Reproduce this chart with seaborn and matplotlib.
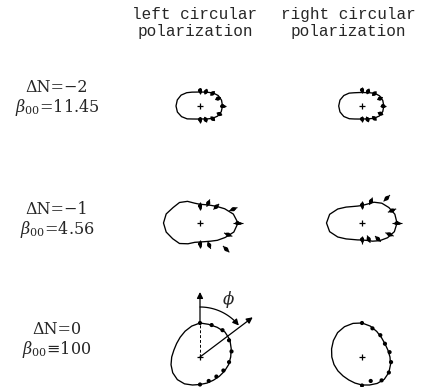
"""
Angular distributions for left / right circular polarization
"""

import matplotlib
matplotlib.use('Agg')

import numpy as np
import pandas as pd
import matplotlib.pyplot as plt
import seaborn as sns

# ---- data (radii in the figure's intensity units) ----
# angle phi measured from the vertical, clockwise (degrees)
CURVE_PHI = [0, 15, 30, 45, 60, 75, 90, 105, 120, 135, 150, 165,
             180, 195, 210, 225, 240, 255, 270, 285, 300, 315, 330, 345]

# fitted curves
FIT_M2_LEFT = [14.0, 14.4, 15.8, 18.5, 21.0, 22.3, 22.5, 22.0, 20.3, 17.5, 14.9, 13.4,
               13.0, 13.5, 15.0, 18.2, 21.3, 23.4, 24.0, 23.5, 21.8, 18.8, 16.0, 14.4]
FIT_M2_RIGHT = [13.5, 13.9, 15.3, 18.0, 20.3, 21.5, 21.8, 21.5, 20.0, 17.3, 14.7, 13.4,
                13.0, 13.5, 15.0, 18.0, 21.0, 22.8, 23.3, 22.8, 21.0, 18.2, 15.3, 13.9]
FIT_M1_LEFT = [18.7, 19.0, 20.5, 23.5, 28.5, 34.5, 38.0, 35.0, 29.0, 24.5, 21.0, 19.3,
               19.0, 20.0, 24.0, 29.0, 31.5, 35.0, 36.5, 35.0, 31.0, 29.0, 25.0, 20.5]
FIT_M1_RIGHT = [17.5, 19.5, 24.0, 28.0, 31.0, 34.0, 35.0, 33.5, 29.5, 25.0, 21.0, 18.0,
                17.0, 17.5, 19.0, 22.5, 28.0, 33.5, 35.5, 33.5, 28.0, 22.5, 19.0, 17.5]
FIT_0_LEFT = [34.0, 33.8, 34.3, 35.3, 34.5, 32.3, 30.7, 29.6, 28.3, 27.3, 26.8, 27.0,
              27.5, 29.0, 31.0, 32.0, 31.5, 30.0, 28.3, 27.0, 27.0, 28.0, 29.8, 32.0]
FIT_0_RIGHT = [34.0, 32.0, 29.5, 27.5, 26.5, 26.8, 28.0, 29.5, 31.0, 31.5, 30.5, 29.0,
               28.0, 27.0, 26.5, 26.8, 27.8, 29.0, 30.2, 31.5, 33.0, 34.5, 35.0, 34.8]

# measured points
PTS_PHI_M = [0, 22.5, 45, 67.5, 90, 112.5, 135, 157.5, 180]
PTS_PHI_0 = [0, 20, 40, 60, 80, 100, 120, 140, 160, 180]

PTS_M2_LEFT = [15.5, 15.5, 17.8, 19.5, 22.5, 21.0, 18.0, 14.8, 13.5]
ERR_M2_LEFT = [3.0, 3.0, 3.0, 3.0, 3.0, 3.0, 3.0, 3.0, 3.0]
PTS_M2_RIGHT = [16.0, 15.8, 17.5, 19.5, 21.0, 20.0, 17.5, 14.5, 13.0]
ERR_M2_RIGHT = [3.0, 3.0, 3.0, 3.0, 3.0, 3.0, 3.0, 3.0, 3.0]

PTS_M1_LEFT = [17.0, 21.5, 23.0, 36.0, 37.5, 30.5, 37.0, 24.0, 21.0]
ERR_M1_LEFT = [4.0, 4.0, 4.0, 4.5, 5.0, 4.5, 4.5, 4.0, 4.0]
PTS_M1_RIGHT = [18.0, 23.5, 35.0, 32.5, 35.0, 29.8, 22.5, 17.5, 16.5]
ERR_M1_RIGHT = [4.0, 4.0, 4.5, 4.5, 5.0, 4.5, 4.0, 4.0, 4.0]

PTS_0_LEFT = [34.0, 34.0, 35.0, 33.5, 32.0, 29.5, 27.0, 25.5, 25.5, 27.5]
PTS_0_RIGHT = [34.0, 30.5, 28.5, 26.5, 28.0, 29.5, 31.0, 30.5, 25.5, 28.5]

COLUMN_TITLES = ["left circular\npolarization", "right circular\npolarization"]
ROW_LABELS = ["ΔN=−2\n" + r"$\beta_{00}$=11.45",
              "ΔN=−1\n" + r"$\beta_{00}$=4.56",
              "ΔN=0\n" + r"$\beta_{00}$≡100"]

# ---- layout (pixels) ----
W, H = 432, 387
COL_X = [200, 362]
ROW_Y = [106, 223, 357]
TITLE_X = [195, 348]
LABEL_X = 57
LABEL_Y = [98.5, 220.5, 340.5]


def polar_xy(cx, cy, phi_deg, r):
    phi = np.deg2rad(np.asarray(phi_deg, dtype=float))
    r = np.asarray(r, dtype=float)
    return cx + r * np.sin(phi), cy - r * np.cos(phi)


def draw_curve(ax, cx, cy, radii):
    phi = list(CURVE_PHI) + [CURVE_PHI[0] + 360]
    rr = list(radii) + [radii[0]]
    x, y = polar_xy(cx, cy, phi, rr)
    df = pd.DataFrame({"x": x, "y": y})
    sns.lineplot(data=df, x="x", y="y", sort=False, estimator=None,
                 color="black", lw=0.95, ax=ax, legend=False)
    ax.plot(cx, cy, marker="+", ms=5, mew=0.9, color="black")


def draw_points(ax, cx, cy, phi, radii, err=None):
    x, y = polar_xy(cx, cy, phi, radii)
    if err is not None:
        for p, r, e in zip(phi, radii, err):
            ex, ey = polar_xy(cx, cy, [p, p], [r - e, r + e])
            ax.plot(ex, ey, color="black", lw=0.8, solid_capstyle="butt")
            sx, sy = polar_xy(cx, cy, [p, p], [r - 0.4 * e, r + 0.4 * e])
            ax.plot(sx, sy, color="black", lw=2.0, solid_capstyle="round")
    df = pd.DataFrame({"x": x, "y": y})
    sns.scatterplot(data=df, x="x", y="y", color="black", s=9,
                    edgecolor="none", ax=ax, legend=False, zorder=3)


sns.set_style("white")
plt.rcParams["font.family"] = ["DejaVu Serif", "DejaVu Sans"]
plt.rcParams["mathtext.fontset"] = "dejavuserif"

fig = plt.figure(figsize=(W / 100, H / 100), dpi=100)
ax = fig.add_axes([0, 0, 1, 1])
ax.set_xlim(0, W)
ax.set_ylim(H, 0)
ax.set_aspect("equal")

fits = [(FIT_M2_LEFT, FIT_M2_RIGHT), (FIT_M1_LEFT, FIT_M1_RIGHT), (FIT_0_LEFT, FIT_0_RIGHT)]
pts = [((PTS_M2_LEFT, ERR_M2_LEFT), (PTS_M2_RIGHT, ERR_M2_RIGHT)),
       ((PTS_M1_LEFT, ERR_M1_LEFT), (PTS_M1_RIGHT, ERR_M1_RIGHT)),
       ((PTS_0_LEFT, None), (PTS_0_RIGHT, None))]
pts_phi = [PTS_PHI_M, PTS_PHI_M, PTS_PHI_0]

for i, cy in enumerate(ROW_Y):
    for j, cx in enumerate(COL_X):
        draw_curve(ax, cx, cy, fits[i][j])
        r, e = pts[i][j]
        draw_points(ax, cx, cy, pts_phi[i], r, e)

# column titles
for j, title in enumerate(COLUMN_TITLES):
    ax.text(TITLE_X[j], 23, title, ha="center", va="center", multialignment="center",
            family="Liberation Mono", fontsize=11.5, linespacing=1.15)

# row labels
for label, y in zip(ROW_LABELS, LABEL_Y):
    ax.text(LABEL_X, y, label, ha="center", va="center", multialignment="center",
            fontsize=11.5, linespacing=1.1)

# definition of phi on the lower left panel
cx, cy = COL_X[0], ROW_Y[2]
ax.plot([cx, cx], [cy, cy - 34], color="black", lw=0.7, ls=(0, (3, 2)))
arrow = dict(arrowstyle="-|>", mutation_scale=9, lw=0.9, color="black",
             shrinkA=0, shrinkB=0)
ax.annotate("", xy=(cx, cy - 65), xytext=(cx, cy - 34), arrowprops=arrow)
ax.annotate("", xy=polar_xy(cx, cy, 53, 66), xytext=(cx, cy), arrowprops=arrow)
arc_phi = np.linspace(0, 48, 30)
arc_x, arc_y = polar_xy(cx, cy, arc_phi, np.full(30, 50.0))
ax.plot(arc_x, arc_y, color="black", lw=0.9)
ax.annotate("", xy=polar_xy(cx, cy, 51, 50), xytext=(arc_x[-2], arc_y[-2]), arrowprops=arrow)
ax.text(229, 299, r"$\phi$", ha="center", va="center", fontsize=12)

ax.set_axis_off()
fig.savefig("out.png", dpi=100)
plt.close(fig)
